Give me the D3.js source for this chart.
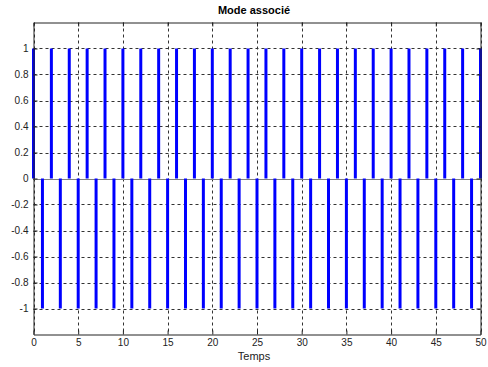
<!DOCTYPE html>
<html>
<head>
<meta charset="utf-8">
<script src="https://cdn.jsdelivr.net/npm/d3@7"></script>
<style>
  html, body { margin: 0; padding: 0; background: #fff; }
  svg { display: block; }
  text { font-family: "Liberation Sans", Arial, sans-serif; }
</style>
</head>
<body>
<svg id="chart" width="488" height="367"></svg>
<script>
// Sample indices 0..50 and the alternating mode values
const temps = [0,1,2,3,4,5,6,7,8,9,10,11,12,13,14,15,16,17,18,19,20,21,22,23,24,25,
  26,27,28,29,30,31,32,33,34,35,36,37,38,39,40,41,42,43,44,45,46,47,48,49,50];
const mode = [1,-1,1,-1,1,-1,1,-1,1,-1,1,-1,1,-1,1,-1,1,-1,1,-1,1,-1,1,-1,1,-1,
  1,-1,1,-1,1,-1,1,-1,1,-1,1,-1,1,-1,1,-1,1,-1,1,-1,1,-1,1,-1,1];
const xTicks = [0,5,10,15,20,25,30,35,40,45,50];
const yTicks = [-1,-0.8,-0.6,-0.4,-0.2,0,0.2,0.4,0.6,0.8,1];

const svg = d3.select("#chart");
const pLeft = 33.5, pRight = 480.5, pTop = 22.5, pBottom = 334.5;

const x = d3.scaleLinear().domain([0, 50]).range([pLeft, pRight]);
const y = d3.scaleLinear().domain([-1.2, 1.2]).range([pBottom, pTop]);

// Grid
const grid = svg.append("g").attr("stroke", "#333").attr("stroke-width", 1)
  .attr("stroke-dasharray", "3,3").attr("fill", "none");
grid.selectAll("line.gx").data(xTicks).join("line")
  .attr("x1", d => Math.round(x(d)) + 0.5).attr("x2", d => Math.round(x(d)) + 0.5)
  .attr("y1", pTop).attr("y2", pBottom);
grid.selectAll("line.gy").data(yTicks).join("line")
  .attr("y1", d => Math.round(y(d)) + 0.5).attr("y2", d => Math.round(y(d)) + 0.5)
  .attr("x1", pLeft).attr("x2", pRight);

// Baseline at zero
svg.append("line")
  .attr("x1", pLeft).attr("x2", pRight)
  .attr("y1", Math.round(y(0)) + 0.5).attr("y2", Math.round(y(0)) + 0.5)
  .attr("stroke", "#808080").attr("stroke-width", 1);

// Stems
svg.append("g").selectAll("line").data(temps).join("line")
  .attr("x1", d => x(d)).attr("x2", d => x(d))
  .attr("y1", y(0)).attr("y2", (d, i) => y(mode[i]))
  .attr("stroke", "#0000ff").attr("stroke-width", 3);

// Axes with inward ticks
const axisColor = "#222";
const xAxis = svg.append("g").attr("transform", `translate(0,${pBottom})`)
  .call(d3.axisBottom(x).tickValues(xTicks).tickSizeInner(-4).tickSizeOuter(0).tickPadding(4)
    .tickFormat(d3.format("d")));
const xAxisTop = svg.append("g").attr("transform", `translate(0,${pTop})`)
  .call(d3.axisTop(x).tickValues(xTicks).tickSizeInner(-4).tickSizeOuter(0).tickFormat(""));
const yAxis = svg.append("g").attr("transform", `translate(${pLeft},0)`)
  .call(d3.axisLeft(y).tickValues(yTicks).tickSizeInner(-4).tickSizeOuter(0).tickPadding(5)
    .tickFormat(d => d === 0 ? "0" : String(+d.toFixed(1))));
const yAxisRight = svg.append("g").attr("transform", `translate(${pRight},0)`)
  .call(d3.axisRight(y).tickValues(yTicks).tickSizeInner(-4).tickSizeOuter(0).tickFormat(""));

[xAxis, xAxisTop, yAxis, yAxisRight].forEach(g => {
  g.select(".domain").attr("stroke", axisColor);
  g.selectAll(".tick line").attr("stroke", axisColor);
  g.selectAll(".tick text").attr("fill", "#222").attr("font-size", 10)
    .attr("font-family", "'Liberation Sans', Arial, sans-serif");
});

// Title and axis label
svg.append("text").attr("x", 254).attr("y", 14)
  .attr("text-anchor", "middle").attr("font-size", 11).attr("font-weight", "bold")
  .attr("fill", "#000").text("Mode associé");
svg.append("text").attr("x", 254).attr("y", 360)
  .attr("text-anchor", "middle").attr("font-size", 11)
  .attr("fill", "#222").text("Temps");
</script>
</body>
</html>
